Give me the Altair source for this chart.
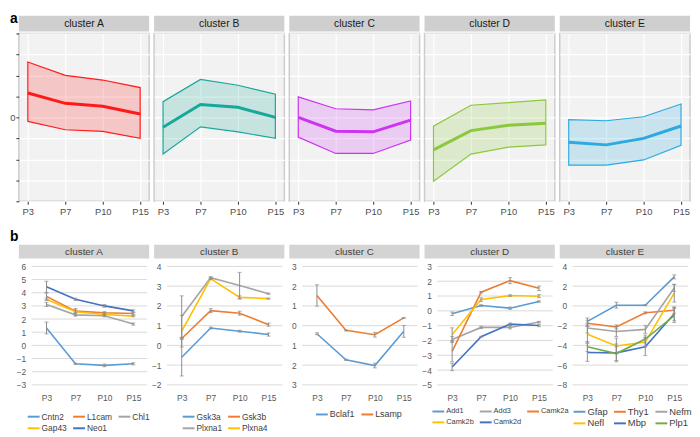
import altair as alt
import pandas as pd

FONT = "Liberation Sans"
times = ["P3", "P7", "P10", "P15"]

# ---------------- panel a ----------------
a_clusters = ["cluster A", "cluster B", "cluster C", "cluster D", "cluster E"]
a_colors = ["#FF1A1A", "#17A89C", "#CC33F2", "#8CC83C", "#2AAAE0"]
a_mean = [
    [1.16, 0.67, 0.53, 0.16],
    [-0.47, 0.61, 0.48, 0.0],
    [0.0, -0.66, -0.69, -0.13],
    [-1.55, -0.63, -0.38, -0.28],
    [-1.19, -1.31, -1.0, -0.41],
]
a_upper = [
    [2.64, 2.0, 1.78, 1.42],
    [0.75, 1.81, 1.53, 1.11],
    [0.98, 0.41, 0.36, 0.78],
    [-0.42, 0.58, 0.70, 0.83],
    [-0.11, -0.16, 0.03, 0.64],
]
a_lower = [
    [-0.19, -0.59, -0.67, -1.0],
    [-1.75, -0.45, -0.69, -1.0],
    [-0.94, -1.72, -1.72, -1.08],
    [-3.05, -1.75, -1.42, -1.31],
    [-2.28, -2.28, -2.03, -1.33],
]
a_ticks = [-4, -3, -2, -1, 0, 1, 2, 3, 4]

# ---------------- panel b ----------------
b_clusters = ["cluster A", "cluster B", "cluster C", "cluster D", "cluster E"]
b_series = [
    ["Cntn2", "L1cam", "Chl1", "Gap43", "Neo1"],
    ["Gsk3a", "Gsk3b", "Plxna1", "Plxna4"],
    ["Bclaf1", "Lsamp"],
    ["Add1", "Add3", "Camk2a", "Camk2b", "Camk2d"],
    ["Gfap", "Thy1", "Nefm", "Nefl", "Mbp", "Plp1"],
]
b_colors = [
    ["#5B9BD5", "#ED7D31", "#A5A5A5", "#FFC000", "#4472C4"],
    ["#5B9BD5", "#ED7D31", "#A5A5A5", "#FFC000"],
    ["#5B9BD5", "#ED7D31"],
    ["#5B9BD5", "#A5A5A5", "#ED7D31", "#FFC000", "#4472C4"],
    ["#5B9BD5", "#ED7D31", "#A5A5A5", "#FFC000", "#4472C4", "#70AD47"],
]
b_values = [
    [[1.32, -1.40, -1.52, -1.40], [3.72, 2.60, 2.48, 2.42], [3.10, 2.32, 2.25, 1.62],
     [3.50, 2.55, 2.35, 2.22], [4.45, 3.50, 3.00, 2.62]],
    [[-0.60, 0.88, 0.72, 0.55], [0.35, 1.76, 1.63, 1.05], [1.46, 3.43, 3.03, 2.62],
     [0.72, 3.38, 2.43, 2.37]],
    [[-0.41, -1.73, -2.02, -0.29], [1.53, -0.24, -0.46, 0.39]],
    [[-0.20, 0.36, 0.18, 0.63], [-1.93, -1.12, -1.12, -0.76], [-2.74, 1.26, 2.04, 1.52],
     [-1.60, 0.76, 1.03, 0.99], [-3.79, -1.75, -0.90, -0.99]],
    [[-1.57, 0.07, 0.07, 2.94], [-1.75, -2.13, -0.70, -0.45], [-2.24, -2.59, -2.38, 1.82],
     [-2.87, -4.06, -3.67, 1.29], [-4.72, -4.76, -4.13, -0.80], [-4.13, -4.83, -3.36, -0.98]],
]
b_errors = [
    [[0.45, 0.05, 0.10, 0.08], [0.25, 0.10, 0.08, 0.08], [0.15, 0.10, 0.08, 0.08],
     [0.10, 0.25, 0.10, 0.05], [0.42, 0.08, 0.10, 0.08]],
    [[0.95, 0.05, 0.05, 0.08], [0.05, 0.10, 0.10, 0.08], [1.05, 0.05, 0.67, 0.03],
     [0.80, 0.05, 0.08, 0.03]],
    [[0.05, 0.03, 0.12, 0.30], [0.54, 0.03, 0.12, 0.03]],
    [[0.12, 0.05, 0.08, 0.05], [0.20, 0.08, 0.10, 0.05], [0.70, 0.05, 0.20, 0.15],
     [0.45, 0.12, 0.05, 0.10], [0.25, 0.03, 0.08, 0.08]],
    [[0.35, 0.30, 0.05, 0.20], [0.30, 0.20, 0.10, 0.30], [0.50, 0.50, 0.40, 0.35],
     [0.80, 0.80, 0.50, 0.90], [0.90, 0.90, 0.90, 0.70], [0.50, 0.70, 0.40, 0.70]],
]
b_ticks = [
    [-3, -2, -1, 0, 1, 2, 3, 4, 5, 6],
    [-2, -1, 0, 1, 2, 3, 4],
    [-3, -2, -1, 0, 1, 2, 3],
    [-5, -4, -3, -2, -1, 0, 1, 2, 3],
    [-8, -6, -4, -2, 0, 2, 4],
]
# legend layout per panel: columns, x, y, font size
b_legend = [
    (3, 8, 145, 8.5),
    (2, 28, 145, 8.5),
    (2, 26, 143, 9),
    (3, 7, 140, 7.5),
    (3, 13, 140, 9.5),
]

PW = 132
TOP_H = 170
BOT_H = 120


def top_panel(i):
    c = a_colors[i]
    first = i == 0
    df = pd.DataFrame({"time": times, "mean": a_mean[i], "lo": a_lower[i], "hi": a_upper[i]})
    xax = alt.Axis(title=None, labelAngle=0, labelFontSize=9.5, labelColor="#4D4D4D",
                   domain=False, ticks=True, tickSize=3, tickColor="#333333",
                   labelPadding=2, grid=True, gridColor="white", gridWidth=1.2)
    yax = alt.Axis(title=None, values=a_ticks, domain=False, grid=True, gridColor="white",
                   gridWidth=1.2, ticks=first, tickSize=3, tickColor="#333333",
                   labels=first, labelExpr="datum.value == 0 ? '0' : ''",
                   labelFontSize=9.5, labelColor="#4D4D4D", labelPadding=1)
    xs = alt.Scale(type="point", padding=0.24)
    ys = alt.Scale(domain=[-4, 4], nice=False, zero=False)
    x = alt.X("time:N", sort=times, scale=xs, axis=xax)
    base = alt.Chart(df)
    area = base.mark_area(fill=c, fillOpacity=0.2, stroke=c, strokeWidth=1.2).encode(
        x=x, y=alt.Y("lo:Q", scale=ys, axis=yax, title=None), y2="hi:Q")
    mean = base.mark_line(color=c, strokeWidth=3).encode(
        x=x, y=alt.Y("mean:Q", scale=ys, axis=yax, title=None))
    lab = pd.DataFrame({"label": [a_clusters[i]]})
    strip = alt.Chart(lab).mark_rect(fill="#CFCFCF").encode(
        x=alt.value(0), x2=alt.value(PW), y=alt.value(-18), y2=alt.value(-2))
    stext = alt.Chart(lab).mark_text(fontSize=10.5, color="#1A1A1A", baseline="middle").encode(
        x=alt.value(PW / 2), y=alt.value(-10), text="label:N")
    layers = [strip, stext, area, mean]
    if first:
        tag = alt.Chart(pd.DataFrame({"t": ["a"]})).mark_text(
            fontSize=14, fontWeight="bold", align="left", baseline="alphabetic", color="black"
        ).encode(x=alt.value(-9), y=alt.value(-11), text="t:N")
        layers.append(tag)
    return alt.layer(*layers).properties(
        width=PW, height=TOP_H,
        view=alt.ViewBackground(fill="#F2F2F2", stroke="#CCCCCC", strokeWidth=1.5))


def bottom_panel(i):
    series = b_series[i]
    rows = []
    for s, vals, errs in zip(series, b_values[i], b_errors[i]):
        for t, v, e in zip(times, vals, errs):
            rows.append({"series": s, "time": t, "value": v, "lo": v - e, "hi": v + e})
    df = pd.DataFrame(rows)
    ticks = b_ticks[i]
    cols, lx, ly, lfs = b_legend[i]
    label_expr = "format(abs(datum.value), 'd')" if i == 2 else "format(datum.value, 'd')"
    yax = alt.Axis(title=None, values=ticks, domain=False, grid=False, ticks=False, tickSize=0,
                   labelPadding=2, offset=-9, labelFontSize=8.5, labelColor="#595959",
                   labelExpr=label_expr)
    xax = alt.Axis(title=None, labelAngle=0, domain=False, ticks=False, tickSize=0, grid=False,
                   labelPadding=9, labelFontSize=8.5, labelColor="#595959")
    ys = alt.Scale(domain=[ticks[0], ticks[-1]], nice=False, zero=False)
    xs = alt.Scale(type="point", range=[28, 116], padding=0)
    x = alt.X("time:N", sort=times, scale=xs, axis=xax)

    gdf = pd.DataFrame({"v": ticks})
    grid = alt.Chart(gdf).mark_rule(color="#D9D9D9", strokeWidth=1).encode(
        x=alt.value(13), x2=alt.value(130), y=alt.Y("v:Q", scale=ys, axis=yax, title=None))
    base = alt.Chart(df)
    color = alt.Color("series:N", sort=series,
                      scale=alt.Scale(domain=series, range=b_colors[i]),
                      legend=alt.Legend(orient="none", legendX=lx, legendY=ly, direction="horizontal",
                                        columns=cols, symbolType="stroke", symbolSize=144,
                                        symbolStrokeWidth=2, labelFontSize=lfs,
                                        labelColor="#404040", columnPadding=2, rowPadding=0,
                                        labelOffset=1, title=None, padding=0))
    lines = base.mark_line(strokeWidth=1.6).encode(
        x=x, y=alt.Y("value:Q", scale=ys, axis=yax, title=None), color=color)
    ebar = base.mark_rule(color="#8C8C8C", strokeWidth=1).encode(
        x=x, y=alt.Y("lo:Q", scale=ys, axis=yax, title=None), y2="hi:Q")
    cap_lo = base.mark_tick(color="#8C8C8C", size=4, thickness=1).encode(
        x=x, y=alt.Y("lo:Q", scale=ys, axis=yax, title=None))
    cap_hi = base.mark_tick(color="#8C8C8C", size=4, thickness=1).encode(
        x=x, y=alt.Y("hi:Q", scale=ys, axis=yax, title=None))
    lab = pd.DataFrame({"label": [b_clusters[i]]})
    strip = alt.Chart(lab).mark_rect(fill="#D4D4D4").encode(
        x=alt.value(0), x2=alt.value(PW), y=alt.value(-22), y2=alt.value(-8))
    stext = alt.Chart(lab).mark_text(fontSize=10, color="#404040", baseline="middle").encode(
        x=alt.value(PW / 2), y=alt.value(-15), text="label:N")
    layers = [grid, strip, stext, lines, ebar, cap_lo, cap_hi]
    if i == 0:
        tag = alt.Chart(pd.DataFrame({"t": ["b"]})).mark_text(
            fontSize=14, fontWeight="bold", align="left", baseline="alphabetic", color="black"
        ).encode(x=alt.value(-9), y=alt.value(-26), text="t:N")
        layers.append(tag)
    return alt.layer(*layers).properties(
        width=PW, height=BOT_H,
        view=alt.ViewBackground(fill="white", stroke=None, strokeWidth=0))


charts = [top_panel(i) for i in range(5)] + [bottom_panel(i) for i in range(5)]

chart = alt.concat(
    *charts, columns=5, bounds="flush", spacing={"row": 66, "column": 5}
).resolve_scale(
    x="independent", y="independent", color="independent"
).resolve_legend(color="independent").properties(
    padding=0
).configure(font=FONT).configure_view(strokeWidth=0)

chart.save("out.html", embed_options={"renderer": "svg", "actions": False})
